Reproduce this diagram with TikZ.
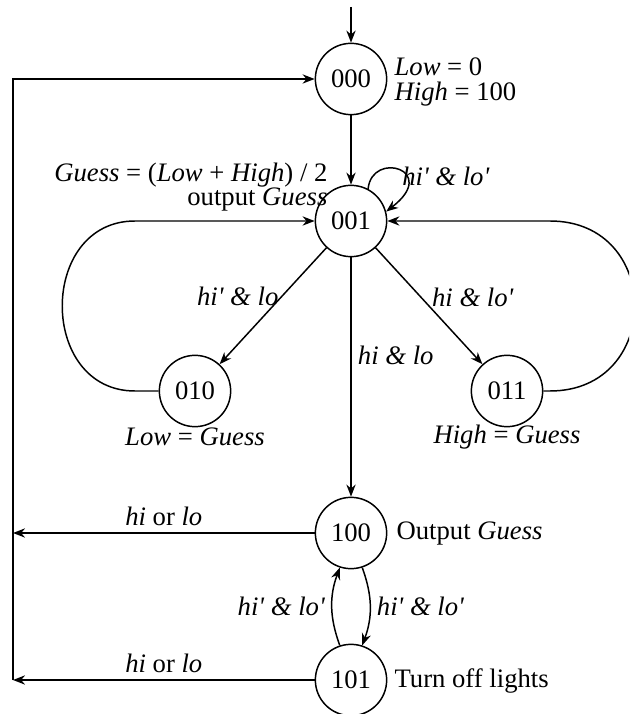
\documentclass[tikz,border=0pt]{standalone}
\usepackage{fontspec}
\setmainfont{Liberation Serif}
\usetikzlibrary{arrows.meta}
\newcommand{\nt}{\textquotesingle}

\begin{document}
\begin{tikzpicture}[x=0.54pt, y=-0.54pt, >={Stealth[length=6.5pt, width=5pt]}, line width=0.8pt,
  font=\fontsize{14.4}{13}\selectfont,
  st/.style={draw, circle, minimum size=38.5pt, inner sep=0pt, font=\fontsize{14.4}{14.4}\selectfont},
  lb/.style={align=left, inner sep=1pt}]
\useasboundingbox (0,0) rectangle (629,714);
\clip (0,0) rectangle (629,714);
% states
\node[st] (s000) at (351,79) {000};
\node[st] (s001) at (351,221) {001};
\node[st] (s010) at (195,391) {010};
\node[st] (s011) at (507,391) {011};
\node[st] (s100) at (351,533) {100};
\node[st] (s101) at (351,680) {101};
% outputs
\node[lb, anchor=west] (o000) at (392,82) {\textit{Low} = 0\\\textit{High} = 100};
\node[lb, align=right, anchor=east] (o001) at (330,187) {\textit{Guess} = (\textit{Low} + \textit{High}) / 2\\output \textit{Guess}};
\node[lb, align=center] (o010) at (195,437) {\textit{Low} = \textit{Guess}};
\node[lb, align=center] (o011) at (507,437) {\textit{High} = \textit{Guess}};
\node[lb, anchor=west] (o100) at (394,534) {Output \textit{Guess}};
\node[lb, anchor=west] (o101) at (392,681) {Turn off lights};
% free ends
\coordinate (init) at (351,7);
\coordinate (r100) at (13,533);
\coordinate (r101) at (13,680);
\draw[->] (init) -- (s000);
\draw[->] (s000) -- (s001);
\draw[->] (s001.62) .. controls (372,150) and (440,170) .. node[right, pos=.45, yshift=-4pt] {\textit{hi\nt{} \& lo\nt}} (s001.15);
\draw[->] (s001) -- node[left, pos=.42, xshift=2pt] {\textit{hi\nt{} \& lo}} (s010);
\draw[->] (s001) -- node[right=2pt, pos=.43] {\textit{hi \& lo\nt}} (s011);
\draw[->] (s001) -- node[right, pos=.41] {\textit{hi \& lo}} (s100);
\draw[->] (s010.west) -- (135,391) .. controls (38,391) and (38,221) .. (135,221) -- (s001.west);
\draw[->] (s011.east) -- (550,391) .. controls (663,391) and (663,221) .. (550,221) -- (s001.east);
\draw[->] (s100.-72) to[bend left=20] node[right] {\textit{hi\nt{} \& lo\nt}} (s101.72);
\draw[->] (s101.108) to[bend left=20] node[left] {\textit{hi\nt{} \& lo\nt}} (s100.-108);
\draw[->] (s100) -- node[above] {\textit{hi} or \textit{lo}} (r100);
\draw[->] (s101) -- node[above] {\textit{hi} or \textit{lo}} (r101);
\draw[->] (r101) |- (s000);
\end{tikzpicture}
\end{document}
